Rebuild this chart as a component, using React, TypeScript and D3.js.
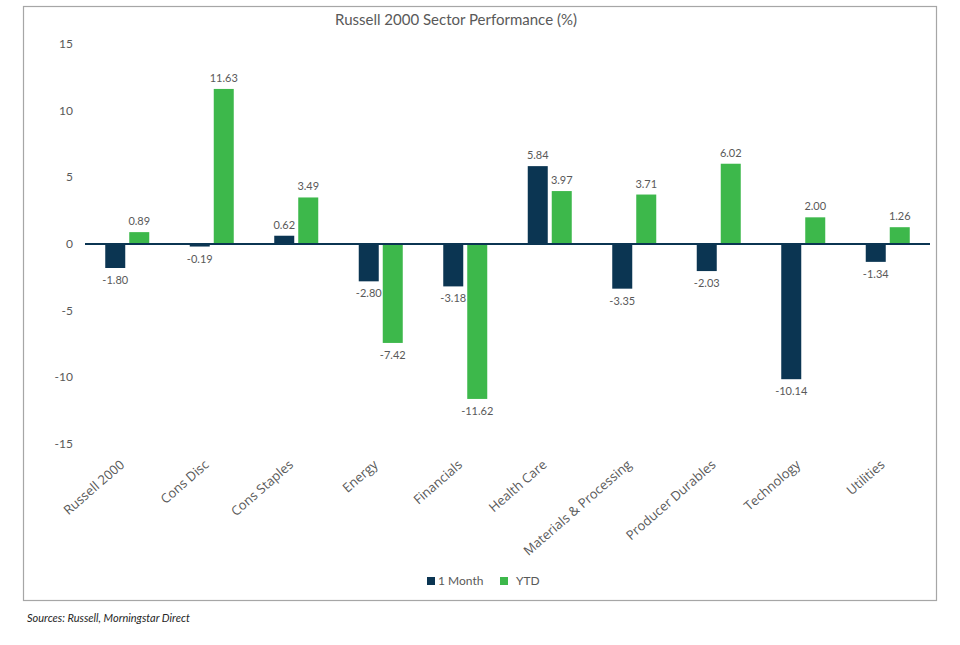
import React from "react";
import * as d3 from "d3";

const categories = ["Russell 2000", "Cons Disc", "Cons Staples", "Energy", "Financials", "Health Care", "Materials & Processing", "Producer Durables", "Technology", "Utilities"];
const oneMonth = [-1.80, -0.19, 0.62, -2.80, -3.18, 5.84, -3.35, -2.03, -10.14, -1.34];
const ytd = [0.89, 11.63, 3.49, -7.42, -11.62, 3.97, 3.71, 6.02, 2.00, 1.26];
const seriesNames = ["1 Month", "YTD"];
const yTicks = [15, 10, 5, 0, -5, -10, -15];

const colors = ["#0b3552", "#3db84b"];
const font = "'Century Gothic', Lato, 'Open Sans', sans-serif";
const labelFont = "'Open Sans', Lato, sans-serif";

export default function App() {
  const W = 960, H = 645;
  const x = d3.scaleBand<string>().domain(categories).range([85, 930]);
  const y = d3.scaleLinear().domain([-15, 15]).range([444, 44]);
  const barW = 20, gap = 4;
  const series = [oneMonth, ytd];

  return (
    <svg width={W} height={H} style={{ position: "absolute", left: 0, top: 0, background: "#fff" }}>
      <rect x={23.5} y={6.5} width={913} height={594} fill="#fff" stroke="#a6a6a6" strokeWidth={1.2} />
      <text x={456} y={25} textAnchor="middle" fontFamily={font} fontSize={15} fill="#595959">
        Russell 2000 Sector Performance (%)
      </text>
      {yTicks.map((t) => (
        <text key={t} x={73} y={y(t) + 4} textAnchor="end" fontFamily={font} fontSize={12} fill="#595959">
          {t}
        </text>
      ))}
      {categories.map((c, i) => {
        const cx = (x(c) as number) + x.bandwidth() / 2;
        return (
          <g key={c}>
            {series.map((s, k) => {
              const v = s[i];
              const bx = k === 0 ? cx - gap / 2 - barW : cx + gap / 2;
              const y0 = y(0), y1 = y(v);
              return (
                <g key={k}>
                  <rect x={bx} y={Math.min(y0, y1)} width={barW} height={Math.abs(y1 - y0)} fill={colors[k]} />
                  <text
                    x={bx + barW / 2}
                    y={v >= 0 ? y1 - 7 : y1 + 16}
                    textAnchor="middle"
                    fontFamily={font}
                    fontSize={11}
                    fill="#595959"
                  >
                    {v.toFixed(2)}
                  </text>
                </g>
              );
            })}
            <text
              transform={`translate(${cx - 2},${466}) rotate(-41)`}
              textAnchor="end"
              fontFamily={labelFont}
              fontSize={13}
              fill="#595959"
            >
              {c}
            </text>
          </g>
        );
      })}
      <line x1={85} x2={930} y1={y(0)} y2={y(0)} stroke="#0b3552" strokeWidth={2} />
      <g fontFamily={font} fontSize={12} fill="#595959">
        <rect x={427} y={577} width={8} height={8} fill={colors[0]} />
        <text x={438} y={585}>{seriesNames[0]}</text>
        <rect x={500} y={577} width={8} height={8} fill={colors[1]} />
        <text x={516} y={585}>{seriesNames[1]}</text>
      </g>
      <text x={27} y={622} fontFamily={font} fontSize={11} fontStyle="italic" fill="#262626">
        Sources: Russell, Morningstar Direct
      </text>
    </svg>
  );
}
